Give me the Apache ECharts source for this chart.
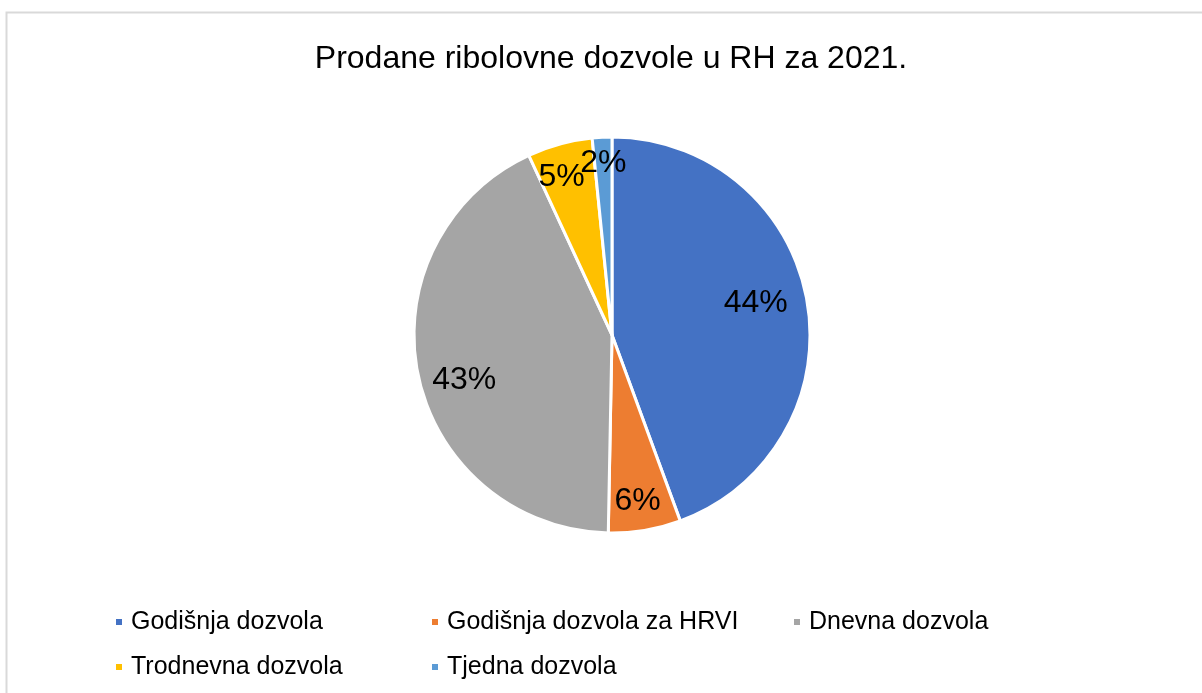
<!DOCTYPE html>
<html>
<head>
<meta charset="utf-8">
<script src="https://cdn.jsdelivr.net/npm/echarts@6/dist/echarts.min.js"></script>
<style>
html,body{margin:0;padding:0;background:#fff;}
#chart{width:1202px;height:693px;}
</style>
</head>
<body>
<div id="chart"></div>
<script>
const titleText = 'Prodane ribolovne dozvole u RH za 2021.';
const categories = ['Godišnja dozvola', 'Godišnja dozvola za HRVI', 'Dnevna dozvola', 'Trodnevna dozvola', 'Tjedna dozvola'];
const values = [44.4, 5.9, 42.8, 5.3, 1.6];
const colors = ['#4472C4', '#ED7D31', '#A5A5A5', '#FFC000', '#5B9BD5'];
const smallSlices = [false, true, false, true, true];

const FONT = '"Liberation Sans", Arial, sans-serif';
const center = [612, 335];
const R = 198;

// small label nudges (Excel "best fit" placement)
const nudge = { 0: [-3, -6], 1: [-3, -3], 2: [-2, 14], 3: [-5, 8], 4: [0, 0] };

const pieData = categories.map((c, i) => ({ name: c, value: values[i], itemStyle: { color: colors[i] } }));
function labelData(small) {
  return categories.map((c, i) => ({
    name: c, value: values[i],
    label: { show: smallSlices[i] === small }
  }));
}
const labelSeries = (radius, small) => ({
  type: 'pie', center: center, radius: radius, startAngle: 90, clockwise: true,
  silent: true, percentPrecision: 0, animation: false, avoidLabelOverlap: false,
  minShowLabelAngle: 0,
  itemStyle: { color: 'rgba(0,0,0,0)', borderWidth: 0 },
  label: { position: 'inside', formatter: '{d}%', fontSize: 32, color: '#000', fontFamily: FONT },
  labelLine: { show: false },
  labelLayout: function (p) {
    const n = nudge[p.dataIndex] || [0, 0];
    return { hideOverlap: false, dx: n[0], dy: n[1] };
  },
  emphasis: { disabled: true },
  data: labelData(small)
});

const legendCommon = {
  orient: 'vertical', icon: 'rect', itemWidth: 8, itemHeight: 8, itemGap: 17, top: 608,
  padding: 0, selectedMode: false,
  textStyle: { fontSize: 25, color: '#000', fontFamily: FONT, lineHeight: 28, padding: [0, 0, 0, 3] }
};

const chart = echarts.init(document.getElementById('chart'), null, { renderer: 'canvas' });
chart.setOption({
  backgroundColor: '#fff',
  animation: false,
  title: {
    text: titleText, left: 606, top: 38, textAlign: 'center',
    textStyle: { fontSize: 32, fontWeight: 'normal', color: '#000', fontFamily: FONT }
  },
  graphic: [{
    type: 'rect', shape: { x: 6.5, y: 12.5, width: 1300, height: 800 }, silent: true,
    style: { fill: 'none', stroke: '#d9d9d9', lineWidth: 2 }
  }],
  legend: [
    Object.assign({}, legendCommon, { left: 114, data: [categories[0], categories[3]] }),
    Object.assign({}, legendCommon, { left: 430, data: [categories[1], categories[4]] }),
    Object.assign({}, legendCommon, { left: 792, data: [categories[2]] })
  ],
  series: [
    {
      type: 'pie', center: center, radius: R, startAngle: 90, clockwise: true,
      animation: false, silent: true,
      itemStyle: { borderColor: '#fff', borderWidth: 3 },
      label: { show: false }, labelLine: { show: false },
      data: pieData
    },
    labelSeries([94, R], false),
    labelSeries([140, R], true)
  ]
});
</script>
</body>
</html>
